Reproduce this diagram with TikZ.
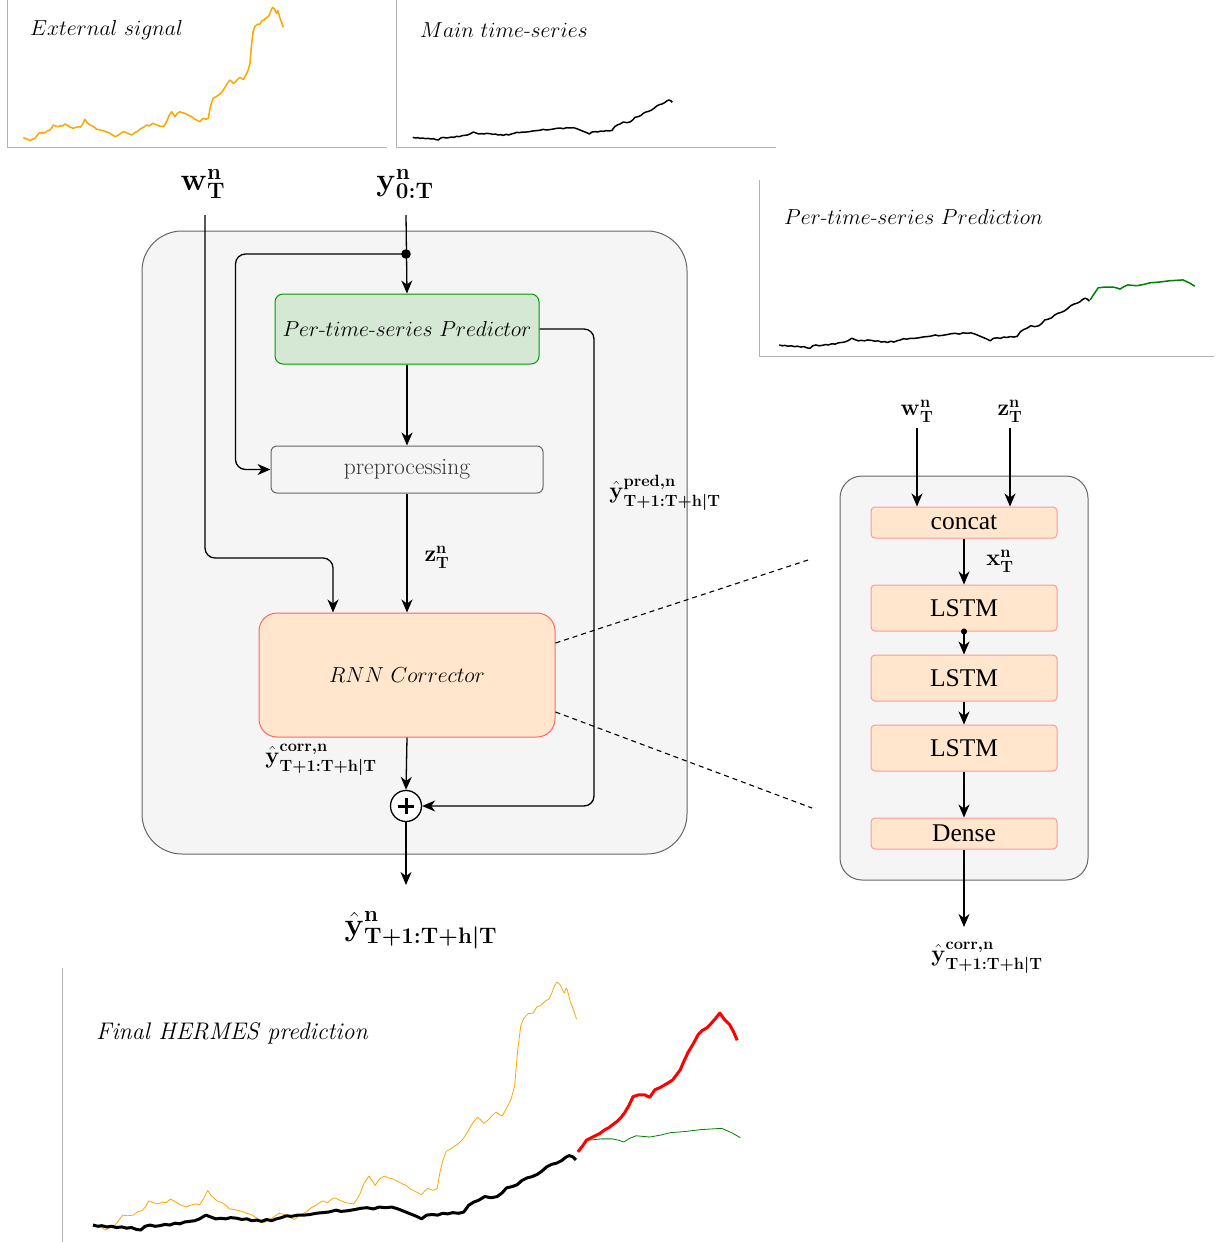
\documentclass[tikz,border=0pt]{standalone}
\usepackage{fix-cm}
\usepackage{amsmath}
\usepackage{fontspec}
\newfontfamily\layerfont{Liberation Serif}
\usetikzlibrary{arrows.meta}
\usetikzlibrary{calc}

\newcommand{\bsym}[1]{\boldsymbol{\mathbf{#1}}}

\definecolor{boxgray}{HTML}{F5F5F5}
\definecolor{edgegray}{HTML}{666666}
\definecolor{textgray}{HTML}{333333}
\definecolor{axisgray}{HTML}{B3B3B3}
\definecolor{predfill}{HTML}{D5E8D4}
\definecolor{prededge}{HTML}{009900}
\definecolor{corrfill}{HTML}{FFE6CC}
\definecolor{corredge}{HTML}{FF6666}
\definecolor{layeredge}{HTML}{FF9999}
\definecolor{signal}{HTML}{FFA500}
\definecolor{fcgreen}{HTML}{008000}

% the shared series (time unit / height unit)
\def\mainseries{8/6, 14/7, 22/5, 30/6, 38/4, 46/5, 54/3, 62/4, 70/1, 77/0, 84/6, 92/8, 100/6, 108/7, 116/9, 124/8, 132/11, 140/10, 148/13, 156/14, 164/15, 172/18, 182/24, 190/21, 198/18, 206/19, 214/18, 222/20, 232/19, 240/17, 248/18, 256/15, 264/16, 272/14, 280/17, 288/15, 296/18, 304/20, 312/23, 320/22, 330/24, 340/24, 350/25, 360/27, 370/28, 380/29, 392/32, 400/30, 410/31, 422/33, 432/35, 442/36, 452/34, 462/37, 472/36, 482/37, 492/34, 502/30, 512/26, 522/22, 530/18, 538/24, 547/25, 556/24, 564/27, 572/26, 580/28, 590/27, 598/29, 606/40, 614/45, 622/48, 632/54, 642/52, 652/54, 660/60, 667/68, 676/70, 684/73, 692/80, 700/84, 708/86, 717/90, 724/95, 732/102, 740/106, 748/108, 756/112, 762/117, 768/120, 774/118, 779/113}
\def\signalseries{8/6, 14/4, 20/0, 27/4, 35/7, 41/15, 48/24, 56/23, 65/24, 72/29, 80/32, 85/38, 90/47, 97/44, 105/42, 112/45, 118/44, 125/50, 132/46, 140/41, 150/37, 157/40, 165/42, 172/41, 178/50, 185/64, 191/55, 200/47, 208/44, 214/40, 220/34, 228/33, 240/30, 248/27, 255/25, 260/22, 268/17, 275/12, 282/15, 290/20, 300/27, 308/25, 316/21, 325/17, 333/23, 340/27, 345/30, 352/36, 360/40, 370/47, 378/44, 385/50, 390/52, 398/48, 408/44, 420/42, 426/50, 430/57, 437/75, 445/87, 450/80, 455/72, 462/82, 470/87, 477/84, 485/82, 492/78, 500/74, 505/72, 512/66, 520/62, 530/57, 535/63, 540/67, 548/64, 555/67, 560/95, 565/115, 570/127, 580/133, 590/140, 597/147, 605/160, 612/172, 620/182, 625/178, 630/172, 638/178, 644/185, 650/190, 656/186, 660/184, 667/196, 674/210, 680/232, 685/290, 690/330, 695/342, 702/349, 710/350, 716/360, 722/362, 730/370, 735/372, 740/382, 744/393, 748/400, 753/396, 757/388, 760/382, 763/390, 765/387, 770/368, 775/355, 780/340}
\def\predseries{820/147, 838/147, 847/145, 856/142, 866/148, 876/152, 887/151, 898/150, 915/153, 931/157, 956/159, 981/162, 998/163, 1014/164, 1030/157, 1044/149}
\def\corrseries{790/136, 796/145, 802/148, 810/152, 818/156, 826/162, 832/165, 837/169, 845/175, 852/182, 858/190, 864/200, 871/215, 880/218, 890/218, 898/214, 906/226, 915/230, 927/237, 935/242, 941/250, 947/258, 953/272, 960/287, 968/300, 976/315, 983/322, 990/326, 995/331, 1003/340, 1011/350, 1018/340, 1027/331, 1033/320, 1039/306}

\tikzset{
  charttitle/.style={anchor=west, inner sep=0pt, font=\fontsize{21.7}{26}\selectfont},
  chartaxis/.style={axisgray, line width=0.9pt},
  outerbox/.style={draw=edgegray, fill=boxgray, line width=1pt, rounded corners=#1},
  outerbox/.default=40pt,
  layerbox/.style={draw=layeredge, fill=corrfill, line width=1pt, rounded corners=4pt,
    minimum width=186pt, font=\layerfont\fontsize{25.5}{28}\selectfont},
  conn/.style={line width=1.3pt, -{Stealth[length=13pt, width=11pt, inset=4pt]}},
  biglabel/.style={inner sep=1pt, font=\fontsize{32}{36}\selectfont},
  smalllabel/.style={inner sep=1pt, font=\fontsize{23.3}{26}\selectfont},
  zoomline/.style={line width=1.1pt, dash pattern=on 5pt off 4pt},
}

\begin{document}
\begin{tikzpicture}[x=1pt, y=-1pt]
\useasboundingbox (0,0) rectangle (1217,1242);

% ---- input charts
\draw[chartaxis] (7,0) -- (7,147) -- (387,147);
\node[charttitle] (exttitle) at (30,30) {$External\ signal$};
\begin{scope}[shift={(23.3,140.7)}, xscale=0.3333, yscale=-0.3333]
  \draw[signal, line width=1.5pt, line join=round] (0,10) \foreach \t/\h in \signalseries {-- (\t,\h)};
\end{scope}

\draw[chartaxis] (396,0) -- (396,147) -- (776,147);
\node[charttitle] (maintitle) at (420,30) {$Main\ time\text{-}series$};
\begin{scope}[shift={(412.7,140)}, xscale=0.3333, yscale=-0.3333]
  \draw[black, line width=1.5pt, line join=round] (0,8) \foreach \t/\h in \mainseries {-- (\t,\h)};
\end{scope}

% ---- per-time-series prediction chart
\draw[chartaxis] (759,180) -- (759,356) -- (1214,356);
\node[charttitle] (predtitle) at (784,217) {$Per\text{-}time\text{-}series\ Prediction$};
\begin{scope}[shift={(779.3,348.3)}, xscale=0.398, yscale=-0.417]
  \draw[black, line width=1.5pt, line join=round] (0,8) \foreach \t/\h in \mainseries {-- (\t,\h)};
  \draw[fcgreen, line width=1.5pt, line join=round] (781,116) -- (801,145) \foreach \t/\h in \predseries {-- (\t,\h)};
\end{scope}

% ---- main block
\node[outerbox, minimum width=545pt, minimum height=623pt] (hermes) at (414.5,542.5) {};

\node[biglabel] (win) at (203,184) {$\bsym{w}^{\bsym{n}}_{\bsym{T}}$};
\node[biglabel] (yin) at (405,184) {$\bsym{y}^{\bsym{n}}_{\bsym{0:T}}$};
\coordinate (wstart) at (205,215);
\coordinate (ystart) at (406,215);
\coordinate (split) at (406,254);
\coordinate (wbend) at (333,558);
\coordinate (predrail) at (594,806);

\node[draw=prededge, fill=predfill, line width=1pt, rounded corners=8pt,
  minimum width=264pt, minimum height=70pt, font=\fontsize{21.7}{26}\selectfont]
  (predictor) at (407,329) {$Per\text{-}time\text{-}series\ Predictor$};
\node[draw=edgegray, fill=boxgray, line width=1pt, rounded corners=6pt,
  minimum width=272pt, minimum height=47pt, text=textgray, font=\fontsize{23.5}{26}\selectfont]
  (prep) at (407,469.5) {preprocessing};
\node[draw=corredge, fill=corrfill, line width=1pt, rounded corners=18pt,
  minimum width=296pt, minimum height=124pt, font=\fontsize{21.7}{26}\selectfont]
  (rnn) at (407,675) {$RNN\ Corrector$};
\node[circle, draw, fill=white, line width=1.3pt, minimum size=31pt, inner sep=0pt] (sum) at (406,806) {};
\draw[line width=3pt] ([xshift=-8pt]sum.center) -- ([xshift=8pt]sum.center)
  ([yshift=-8pt]sum.center) -- ([yshift=8pt]sum.center);

\fill (split) circle (4.8pt);
\draw[conn] (ystart) -- (predictor.north);
\draw[conn, rounded corners=10pt] (split) -| ([xshift=-35pt]prep.west) -- (prep.west);
\draw[conn, rounded corners=10pt] (wstart) |- (wbend) -- ([xshift=-74pt]rnn.north);
\draw[conn] (predictor.south) -- (prep.north);
\draw[conn] (prep.south) -- (rnn.north);
\draw[conn] (rnn.south) -- (sum.north);
\draw[conn, rounded corners=10pt] (predictor.east) -| (predrail) -- (sum.east);
\coordinate (outend) at (406,885);
\draw[conn] (sum.south) -- (outend);

\node[smalllabel] (zlbl) at (437,557) {$\bsym{z}^{\bsym{n}}_{\bsym{T}}$};
\node[smalllabel] (predlbl) at (665,493) {$\hat{\bsym{y}}^{\bsym{pred,n}}_{\bsym{T+1:T+h|T}}$};
\node[smalllabel] (corrlbl) at (321,760) {$\hat{\bsym{y}}^{\bsym{corr,n}}_{\bsym{T+1:T+h|T}}$};
\node[biglabel] (outlbl) at (421,930) {$\hat{\bsym{y}}^{\bsym{n}}_{\bsym{T+1:T+h|T}}$};

% ---- zoom into the corrector
\coordinate (zoomtop) at (808,560);
\coordinate (zoombot) at (812,808);
\draw[zoomline] ([yshift=32pt]rnn.east) -- (zoomtop);
\draw[zoomline] ([yshift=-37pt]rnn.east) -- (zoombot);

\node[outerbox=22pt, minimum width=248pt, minimum height=404pt] (lstmblock) at (964,678) {};
\node[layerbox, minimum height=31pt] (concat) at (964,522.5) {concat};
\node[layerbox, minimum height=46pt] (lstma) at (964,608) {LSTM};
\node[layerbox, minimum height=46pt] (lstmb) at (964,678) {LSTM};
\node[layerbox, minimum height=46pt] (lstmc) at (964,748) {LSTM};
\node[layerbox, minimum height=31pt] (dense) at (964,833.5) {Dense};

\node[smalllabel] (wsub) at (917,411) {$\bsym{w}^{\bsym{n}}_{\bsym{T}}$};
\node[smalllabel] (zsub) at (1010,411) {$\bsym{z}^{\bsym{n}}_{\bsym{T}}$};
\node[smalllabel] (xsub) at (1000,561) {$\bsym{x}^{\bsym{n}}_{\bsym{T}}$};
\coordinate (wsubend) at (917,428);
\coordinate (zsubend) at (1010,428);
\coordinate (denseout) at (964,927);

\draw[conn] (wsubend) -- ([xshift=-47pt]concat.north);
\draw[conn] (zsubend) -- ([xshift=46pt]concat.north);
\draw[conn] (concat.south) -- (lstma.north);
\draw[line width=1.3pt, {Circle[length=6pt]}-{Stealth[length=13pt, width=11pt, inset=4pt]}] ([yshift=3pt]lstma.south) -- (lstmb.north);
\draw[conn] (lstmb.south) -- (lstmc.north);
\draw[conn] (lstmc.south) -- (dense.north);
\draw[conn] (dense.south) -- (denseout);
\node[smalllabel] (corrsub) at (987,958) {$\hat{\bsym{y}}^{\bsym{corr,n}}_{\bsym{T+1:T+h|T}}$};

% ---- final prediction chart
\draw[chartaxis] (62,968) -- (62,1242);
\node[charttitle, font=\fontsize{24}{28}\selectfont] (finaltitle) at (96,1033) {\itshape Final HERMES prediction};
\begin{scope}[shift={(93,1230)}, xscale=0.62, yscale=-0.62]
  \draw[signal, line width=0.8pt, line join=round] (0,10) \foreach \t/\h in \signalseries {-- (\t,\h)};
  \draw[black, line width=3pt, line join=round] (0,8) \foreach \t/\h in \mainseries {-- (\t,\h)};
  \draw[fcgreen, line width=0.8pt, line join=round] (801,145) \foreach \t/\h in \predseries {-- (\t,\h)};
  \draw[red, line width=3pt, line join=round] (782,126) \foreach \t/\h in \corrseries {-- (\t,\h)};
\end{scope}
\end{tikzpicture}
\end{document}
